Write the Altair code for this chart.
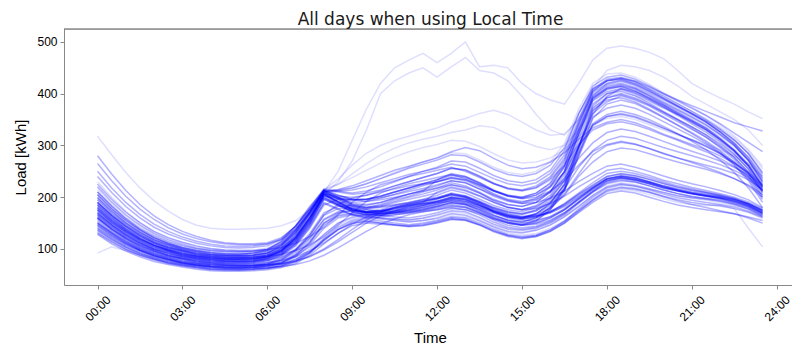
import altair as alt
import pandas as pd

# Half-hourly time stamps of each day
times = ["00:00","00:30","01:00","01:30","02:00","02:30","03:00","03:30",
         "04:00","04:30","05:00","05:30","06:00","06:30","07:00","07:30",
         "08:00","08:30","09:00","09:30","10:00","10:30","11:00","11:30",
         "12:00","12:30","13:00","13:30","14:00","14:30","15:00","15:30",
         "16:00","16:30","17:00","17:30","18:00","18:30","19:00","19:30",
         "20:00","20:30","21:00","21:30","22:00","22:30","23:00","23:30"]

tick_hours = [0, 3, 6, 9, 12, 15, 18, 21, 24]
tick_labels = ["00:00", "03:00", "06:00", "09:00", "12:00", "15:00", "18:00", "21:00", "24:00"]
y_ticks = [100, 200, 300, 400, 500]

# ---- summer-like days (low evening peak) ----
s01 = [132,115,100,89,80,73,68,64,61,60,60,61,
       63,68,78,95,120,142,155,160,158,155,152,155,
       160,168,165,155,143,134,131,136,146,162,182,203,
       220,226,222,216,209,203,199,196,192,186,177,163]
s02 = [150,130,112,98,88,80,74,70,67,66,66,67,
       70,76,90,115,150,165,170,168,165,162,160,164,
       170,178,176,166,152,142,138,142,152,168,190,212,
       232,238,234,226,218,212,206,203,199,193,184,170]
s03 = [128,110,96,85,76,70,65,61,58,57,57,58,
       60,64,72,88,110,130,145,150,148,146,143,145,
       150,157,155,146,133,124,120,124,134,150,170,190,
       207,212,208,200,192,185,180,176,172,168,162,155]
s04 = [140,122,106,94,84,77,71,67,64,63,63,64,
       66,72,85,108,140,160,166,164,160,158,156,160,
       166,174,172,161,148,139,136,140,150,166,188,210,
       228,234,230,222,214,207,202,198,195,189,180,166]
s05 = [160,138,119,104,93,85,79,74,71,70,70,71,
       74,82,100,130,170,182,184,180,182,186,190,195,
       200,206,202,190,176,165,160,163,172,186,205,222,
       240,245,241,234,226,219,213,208,203,196,187,174]
s06 = [145,126,110,97,87,79,73,69,66,65,65,66,
       69,74,86,104,128,150,162,166,165,170,174,178,
       183,190,186,174,160,150,146,150,160,175,196,216,
       235,240,236,229,221,214,208,204,200,194,186,172]
s07 = [170,147,127,111,99,90,83,78,74,72,71,72,
       74,78,85,96,112,130,148,162,172,180,185,188,
       190,192,188,180,170,160,155,156,162,176,196,215,
       232,237,233,226,219,213,207,203,198,192,183,170]
s08 = [135,118,103,91,82,75,70,66,63,62,62,63,
       65,70,80,98,124,146,158,162,160,156,153,155,
       158,164,162,153,141,131,127,130,140,155,174,193,
       210,215,212,205,197,190,186,184,185,178,140,104]
s09 = [155,134,116,102,91,83,77,72,69,68,68,69,
       72,80,98,126,165,178,180,176,172,174,178,184,
       192,200,198,188,173,162,158,161,170,184,202,220,
       236,242,238,230,222,216,210,206,202,196,188,176]
s10 = [165,143,124,109,97,88,82,77,74,73,73,74,
       77,86,106,140,185,196,196,192,195,200,206,212,
       218,224,220,208,193,181,176,178,188,202,220,236,
       252,256,250,242,233,226,219,213,207,200,191,178]
s11 = [138,120,104,92,83,76,71,67,64,63,63,64,
       67,73,88,112,146,163,168,166,164,166,169,172,
       176,182,180,170,156,146,141,144,154,170,191,212,
       230,236,233,226,218,212,207,202,198,191,182,168]
s12 = [142,124,108,96,86,79,73,69,66,65,64,65,
       67,71,80,94,116,138,152,157,154,150,147,150,
       155,162,160,150,138,128,124,127,137,153,174,196,
       214,220,217,210,202,195,190,186,183,178,171,160]
s13 = [150,131,114,100,90,82,76,72,69,68,67,68,
       71,78,94,120,156,170,174,171,170,172,175,180,
       186,194,191,180,166,155,150,153,163,178,198,218,
       236,241,237,230,222,215,209,205,201,195,186,173]
s14 = [92,104,97,88,80,74,69,65,62,61,61,62,
       64,69,80,100,128,150,160,163,161,158,156,159,
       164,171,169,159,146,137,133,137,147,163,183,204,
       222,228,224,217,209,203,198,194,190,184,176,163]

# ---- shoulder days (medium evening peak) ----
m01 = [175,152,132,116,104,95,88,83,80,78,78,79,
       83,94,115,150,196,184,174,170,174,180,186,192,
       198,206,202,192,180,172,168,174,190,216,258,290,
       310,318,314,305,296,288,280,272,263,252,238,215]
m02 = [190,165,143,125,111,101,94,88,85,83,83,84,
       88,98,120,155,205,198,190,192,198,206,214,222,
       230,238,234,222,207,196,192,196,210,236,275,305,
       325,332,327,318,308,298,289,280,270,258,243,222]
m03 = [160,139,121,106,95,87,81,76,73,72,72,73,
       77,88,110,145,188,176,166,162,165,170,176,182,
       188,196,192,182,170,162,158,164,178,204,240,268,
       288,295,292,284,276,268,261,254,246,236,224,205]
m04 = [210,183,158,138,122,111,103,97,93,91,90,92,
       96,108,132,168,210,215,222,232,242,252,260,268,
       276,288,296,290,275,262,255,258,268,286,312,334,
       345,350,344,334,322,312,302,292,280,266,248,225]
m05 = [180,156,136,119,107,98,91,86,83,81,81,82,
       86,97,118,152,202,198,194,196,202,210,218,226,
       234,244,240,228,213,202,197,200,212,232,262,288,
       302,308,303,294,284,276,269,262,255,246,234,214]
m06 = [230,200,173,150,133,121,112,105,100,98,97,98,
       102,114,140,176,215,225,238,252,266,278,288,296,
       302,310,308,298,284,272,266,268,276,292,318,340,
       352,356,350,340,330,320,311,302,292,280,264,240]

# ---- winter-like days (high evening peak) ----
w01 = [180,156,136,120,108,99,92,87,84,82,82,83,
       87,100,126,162,206,192,178,172,176,184,190,196,
       204,214,208,196,184,176,172,180,200,238,310,380,
       400,405,396,382,366,351,336,320,300,277,248,208]
w02 = [200,174,151,133,118,108,100,94,90,88,88,89,
       93,108,136,172,214,200,186,180,186,195,202,210,
       218,228,222,210,196,186,182,190,210,250,325,392,
       412,418,410,396,380,365,350,334,314,290,260,218]
w03 = [165,143,125,110,99,91,85,80,77,76,76,77,
       81,90,110,146,196,184,172,166,168,174,180,186,
       192,200,195,184,172,164,160,168,188,224,295,368,
       388,392,384,370,355,340,325,309,290,268,240,200]
w04 = [280,245,213,186,164,147,134,124,117,112,110,110,
       112,122,144,176,212,204,196,196,202,210,218,226,
       234,246,240,228,214,204,200,208,228,268,340,405,
       425,430,422,408,392,377,362,346,326,302,272,232]
w05 = [318,282,248,218,193,173,157,146,140,138,138,139,
       140,145,155,175,205,212,218,226,236,248,258,268,
       276,286,284,272,258,248,244,250,268,304,370,420,
       438,440,432,418,402,388,374,358,340,318,292,260]
w06 = [220,191,166,146,130,118,109,102,98,96,95,96,
       100,114,140,176,210,198,186,184,190,198,206,214,
       222,232,228,216,204,194,190,198,220,260,335,398,
       418,424,416,402,388,374,360,345,327,305,278,240]
w07 = [170,148,129,114,102,94,87,82,79,78,78,79,
       83,96,122,160,200,186,172,166,168,172,178,184,
       190,198,194,184,172,164,160,168,188,226,300,372,
       392,398,390,378,364,350,336,321,303,282,255,215]
w08 = [190,165,144,127,113,104,97,91,88,86,86,87,
       91,106,132,170,212,196,182,178,182,190,196,202,
       208,218,212,202,190,180,176,184,204,244,318,388,
       408,414,406,392,378,363,348,333,314,292,264,224]
w09 = [160,139,121,107,96,88,82,78,75,74,74,75,
       79,88,108,142,190,178,166,160,162,166,170,176,
       182,190,186,176,164,156,152,160,180,214,286,355,
       372,378,372,360,346,332,318,303,285,262,232,190]
w10 = [240,209,182,160,142,129,119,111,106,103,102,103,
       106,118,144,180,216,212,208,212,220,230,240,250,
       258,270,268,256,242,232,228,234,252,290,360,415,
       432,436,428,415,400,386,372,358,342,324,306,288]
w11 = [210,183,159,140,125,114,106,100,96,94,94,95,
       99,111,136,172,212,214,218,226,236,246,256,264,
       272,282,280,268,254,244,240,246,262,296,362,410,
       425,430,424,413,400,388,377,366,355,344,336,328]
w12 = [185,161,140,124,111,102,95,89,86,84,84,85,
       89,102,128,166,208,192,178,172,174,180,186,192,
       198,208,203,192,180,172,168,176,196,232,296,360,
       395,410,404,390,375,360,345,330,311,289,260,220]
w13 = [175,152,133,117,105,96,89,84,81,80,80,81,
       85,97,122,158,204,190,176,170,172,178,184,190,
       196,206,200,190,178,170,166,174,192,224,285,340,
       356,360,354,344,333,322,311,299,285,268,246,212]
w14 = [250,218,190,167,148,134,123,115,109,106,105,106,
       109,120,144,178,214,210,206,208,214,222,230,238,
       246,256,253,241,227,217,213,219,237,272,342,402,
       420,426,418,405,390,376,362,348,330,310,285,248]
w15 = [195,169,147,130,116,106,98,92,89,87,87,88,
       92,106,132,168,210,196,184,180,184,192,200,206,
       214,224,218,208,194,186,182,190,210,250,322,390,
       410,416,409,396,382,368,354,339,321,300,272,230]
w16 = [205,178,155,137,122,111,103,97,93,91,91,92,
       96,110,136,172,212,200,188,186,190,198,206,212,
       233,242,238,226,212,202,198,204,222,258,330,395,
       415,420,412,399,384,370,356,341,322,300,270,228]

# ---- more days of mixed kinds ----
x01 = [190,166,145,128,114,104,97,91,87,85,84,84,
       86,90,97,108,124,146,170,192,208,218,226,232,
       238,244,236,224,212,204,200,208,226,262,330,392,
       410,414,405,392,378,362,347,331,312,290,262,222]
x02 = [225,196,171,151,134,122,113,106,101,98,97,97,
       99,103,111,124,142,166,190,210,224,232,240,246,
       252,258,250,238,226,218,214,222,240,276,345,405,
       425,428,419,405,391,376,361,345,326,304,276,236]
x03 = [172,150,131,115,103,94,87,82,79,77,77,78,
       82,92,114,150,204,188,176,170,168,170,172,175,
       180,186,182,172,160,152,148,156,176,212,280,352,
       380,388,381,368,354,339,323,306,287,264,236,196]
x04 = [182,158,138,121,108,99,92,86,83,81,80,81,
       85,95,118,156,206,190,178,172,171,173,176,180,
       186,193,189,178,165,156,152,160,181,219,292,366,
       392,400,392,379,364,349,333,316,296,273,244,203]
x05 = [148,129,112,98,88,80,74,69,66,64,63,63,
       64,66,70,77,88,102,118,134,148,158,166,172,
       176,180,176,168,158,150,146,148,156,170,190,210,
       226,232,229,222,214,207,201,197,193,187,178,165]
x06 = [158,137,119,104,93,85,79,74,71,69,68,68,
       69,71,76,85,98,114,132,150,164,174,182,188,
       192,196,192,184,174,166,162,164,172,186,206,224,
       240,246,242,235,227,220,214,209,204,197,188,175]
x07 = [136,118,103,91,81,74,69,65,62,61,60,61,
       63,67,76,92,118,138,150,154,150,147,145,148,
       153,160,157,147,135,126,122,126,137,154,177,200,
       218,224,221,214,206,199,194,190,186,181,173,162]
x08 = [146,127,110,97,87,79,73,69,66,64,64,65,
       68,74,88,112,150,168,175,172,168,170,173,177,
       182,189,186,176,162,152,147,150,160,176,198,218,
       236,240,236,229,220,213,207,203,199,193,184,170]
x09 = [168,146,128,112,100,92,85,80,77,75,75,76,
       80,90,112,148,198,186,176,172,174,178,183,188,
       193,200,196,186,173,164,160,166,180,206,245,282,
       300,306,302,294,285,276,267,258,248,236,222,200]
x10 = [198,172,150,132,118,108,100,94,90,88,87,88,
       92,102,124,160,208,200,194,196,202,210,218,224,
       230,238,234,224,212,203,198,204,220,248,298,338,
       356,362,356,346,334,322,310,298,284,266,246,218]
x11 = [265,232,202,177,157,141,129,120,114,110,108,108,
       110,118,138,170,210,212,214,220,228,236,244,250,
       256,264,260,248,236,226,222,228,246,282,350,408,
       428,432,424,410,396,381,366,350,332,311,284,245]
x12 = [185,160,139,121,107,97,89,83,79,77,76,76,
       78,84,98,122,158,172,178,176,174,176,180,185,
       190,198,196,186,172,162,158,162,172,188,208,228,
       246,250,246,238,230,222,216,210,205,198,188,174]
x13 = [178,155,135,119,107,98,91,86,82,80,80,81,
       85,96,120,158,200,186,174,170,172,178,183,190,
       210,220,214,203,190,180,176,182,198,232,300,362,
       384,396,388,376,361,346,331,316,298,277,249,210]
x14 = [168,146,127,112,100,92,85,80,77,76,76,77,
       81,92,116,154,204,192,182,178,180,184,188,192,
       197,204,200,188,175,166,162,168,184,215,278,342,
       360,366,360,350,337,323,308,292,272,248,218,180]
x15 = [152,132,115,101,90,82,76,72,69,68,67,68,
       71,79,97,126,166,186,198,204,210,216,222,226,
       230,236,232,220,205,194,188,190,198,212,230,246,
       260,264,258,250,241,233,226,220,213,205,195,180]
x16 = [205,178,155,136,121,110,102,96,92,90,90,92,
       98,115,145,182,214,204,196,195,199,205,211,217,
       224,232,228,216,202,192,188,194,212,250,322,386,
       404,410,402,389,375,360,345,330,311,289,261,221]
x17 = [162,141,122,107,96,87,81,76,72,70,69,69,
       70,72,77,86,100,118,138,156,170,180,188,194,
       198,204,200,190,178,168,163,164,170,182,200,218,
       234,238,234,228,220,213,207,202,197,190,181,168]
x18 = [188,164,143,126,112,103,96,90,86,84,84,85,
       89,100,123,160,206,202,200,204,212,222,230,238,
       246,256,252,240,226,216,212,218,234,262,302,330,
       342,346,340,331,320,310,299,288,275,259,240,212]
x19 = [176,153,134,118,106,97,90,85,82,80,80,81,
       85,96,121,160,208,190,176,170,168,169,171,174,
       178,184,180,170,158,150,146,154,176,216,296,376,
       400,408,400,387,373,358,342,326,307,284,254,212]
x20 = [130,113,99,88,79,72,67,63,60,59,59,60,
       62,66,75,92,117,137,149,153,150,147,144,146,
       151,158,156,147,135,126,121,124,134,150,172,194,
       212,218,215,209,201,193,186,180,174,168,160,150]

# ---- unusual days ----
o01 = [200,174,151,133,118,108,100,94,90,88,88,89,
       93,104,128,165,210,250,310,370,420,450,465,478,
       460,478,500,452,455,450,420,400,388,380,420,465,
       488,492,488,480,468,445,420,405,392,380,365,352]
o02 = [185,161,140,123,110,101,94,88,85,83,83,84,
       88,99,124,162,205,230,270,330,400,425,440,450,
       432,452,470,445,440,425,395,360,330,320,350,410,
       445,455,452,445,432,415,395,380,365,350,330,300]
o03 = [215,187,162,143,127,116,107,101,97,95,94,95,
       98,110,135,172,214,235,262,285,300,310,318,326,
       334,345,352,362,368,360,345,330,320,322,350,395,
       420,428,420,408,394,380,366,352,335,315,290,255]
o04 = [195,170,148,130,116,106,98,92,89,87,87,88,
       92,104,130,168,212,225,245,265,282,295,305,312,
       318,325,330,338,335,322,308,298,292,300,330,372,
       395,402,396,385,372,360,348,335,318,298,272,236]

days = {
    "s01": s01, "s02": s02, "s03": s03, "s04": s04, "s05": s05, "s06": s06, "s07": s07,
    "s08": s08, "s09": s09, "s10": s10, "s11": s11, "s12": s12, "s13": s13, "s14": s14,
    "m01": m01, "m02": m02, "m03": m03, "m04": m04, "m05": m05, "m06": m06,
    "w01": w01, "w02": w02, "w03": w03, "w04": w04, "w05": w05, "w06": w06, "w07": w07,
    "w08": w08, "w09": w09, "w10": w10, "w11": w11, "w12": w12, "w13": w13, "w14": w14,
    "w15": w15, "w16": w16,
    "x01": x01, "x02": x02, "x03": x03, "x04": x04, "x05": x05, "x06": x06, "x07": x07,
    "x08": x08, "x09": x09, "x10": x10, "x11": x11, "x12": x12, "x13": x13, "x14": x14,
    "x15": x15, "x16": x16, "x17": x17, "x18": x18, "x19": x19, "x20": x20,
    "o01": o01, "o02": o02, "o03": o03, "o04": o04,
}
# days drawn fainter (they lie in sparse parts of the plot)
faint_days = ["o01", "o02", "o03", "o04", "w05", "m06", "s14", "s08"]

hours = [int(t[:2]) + int(t[3:]) / 60 for t in times]
rows = []
for name, vals in days.items():
    if len(vals) != len(times):
        raise ValueError(f"{name} has {len(vals)} values")
    for h, v in zip(hours, vals):
        rows.append({"day": name, "hour": h, "load": v, "faint": name in faint_days})
df = pd.DataFrame(rows)

label_expr = "[" + ",".join(f"'{l}'" for l in tick_labels) + "][datum.value / 3]"

W, H = 728, 256
FONT = "DejaVu Sans"
TXT = "#1a1a1a"
FRAME = "#555555"

lines = alt.Chart(df).mark_line(
    color="#0000ff", strokeWidth=1.5, clip=True
).encode(
    x=alt.X("hour:Q",
            scale=alt.Scale(domain=[-1.184, 24.54], nice=False, zero=False),
            axis=alt.Axis(values=tick_hours, labelExpr=label_expr, title="Time",
                          labelAngle=-45, labelAlign="center", labelBaseline="middle",
                          labelPadding=19, tickSize=4, labelFontSize=12,
                          labelOverlap=False, labelFlush=False,
                          titleFontSize=15, titleFontWeight="normal",
                          titleX=366, titleY=57, titleBaseline="alphabetic",
                          titleAlign="center", grid=False)),
    y=alt.Y("load:Q",
            scale=alt.Scale(domain=[30.4, 525.1], nice=False, zero=False),
            axis=alt.Axis(values=y_ticks, title="Load [kWh]", labelFontSize=12,
                          tickSize=4, labelPadding=3,
                          titleFontSize=15, titleFontWeight="normal",
                          titleX=-44, titleY=128, titleAngle=-90,
                          titleBaseline="middle", titleAlign="center", grid=False)),
    detail="day:N",
    opacity=alt.condition("datum.faint", alt.value(0.13), alt.value(0.3)),
)

top_border = alt.Chart(pd.DataFrame({"a": [0]})).mark_rule(
    color=FRAME, strokeWidth=1
).encode(x=alt.value(0), x2=alt.value(W), y=alt.value(0))

chart = alt.layer(lines, top_border).properties(
    width=W, height=H,
    title=alt.TitleParams("All days when using Local Time", fontSize=17, font=FONT,
                          fontWeight="normal", color=TXT, offset=4, dy=17,
                          baseline="alphabetic", anchor="middle", dx=2.5),
    padding={"left": 64, "top": 29, "right": 0, "bottom": 59},
    autosize=alt.AutoSizeParams(type="none"),
).configure_view(stroke=None).configure_axis(
    domainColor=FRAME, tickColor=FRAME, labelColor=TXT, titleColor=TXT,
    labelFont=FONT, titleFont=FONT, domainWidth=1, tickWidth=1,
).configure(background="white")

chart.save("out.html", embed_options={"renderer": "svg", "actions": False})
